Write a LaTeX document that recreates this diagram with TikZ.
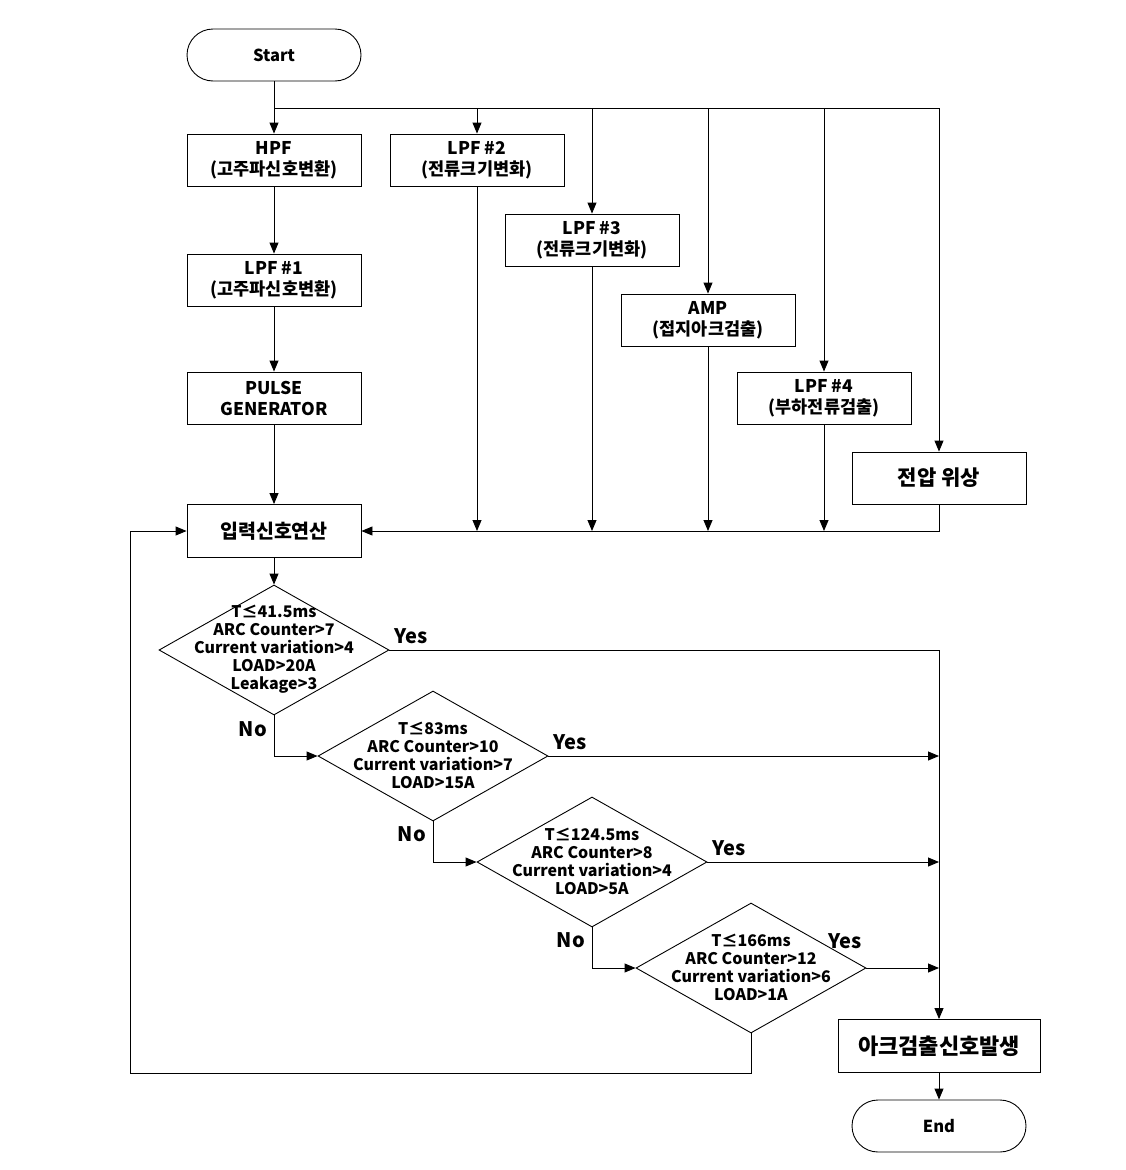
\documentclass[tikz,border=0pt]{standalone}
\usepackage{fontspec}
\setmainfont{Noto Sans CJK KR}
\usetikzlibrary{arrows.meta,shapes.geometric}
\newcommand{\lat}{\fontsize{17.5}{21}\selectfont}
\newcommand{\kor}{\fontsize{17.5}{21}\selectfont}
\begin{document}
\begin{tikzpicture}[x=1pt,y=-1pt,
  line width=0.9pt,
  box/.style={draw,rectangle,minimum width=174pt,minimum height=52pt,inner sep=0pt,align=center,font=\bfseries\lat},
  term/.style={draw,rectangle,rounded corners=26pt,minimum width=174pt,minimum height=52pt,inner sep=0pt,font=\bfseries\fontsize{16.5}{20}\selectfont},
  dia/.style={draw,diamond,minimum width=230pt,minimum height=130pt,inner sep=0pt},
  dtext/.style={align=center,inner sep=0pt,font=\bfseries\fontsize{16}{18}\selectfont},
  yn/.style={inner sep=0pt,font=\bfseries\fontsize{20}{22}\selectfont},
  arr/.style={-{Triangle[length=11pt,width=9pt]}}
]
\useasboundingbox (0,0) rectangle (1126,1170);
% nodes
\node[term] (start) at (274,55) {Start};
\node[box] (hpf) at (274,160) {HPF\\{\kor(고주파신호변환)}};
\node[box] (lpf2) at (477,160) {LPF \#2\\{\kor(전류크기변화)}};
\node[box] (lpf3) at (592,240) {LPF \#3\\{\kor(전류크기변화)}};
\node[box] (amp) at (708,320) {AMP\\{\kor(접지아크검출)}};
\node[box] (lpf4) at (824,398) {LPF \#4\\{\kor(부하전류검출)}};
\node[box,font=\bfseries\fontsize{21}{24}\selectfont] (volt) at (939,478) {전압 위상};
\node[box] (lpf1) at (274,280) {LPF \#1\\{\kor(고주파신호변환)}};
\node[box] (pulse) at (274,398) {PULSE\\GENERATOR};
\node[box,minimum height=53pt,font=\bfseries\fontsize{19.5}{22}\selectfont] (calc) at (274,531) {입력신호연산};
\node[dia] (d1) at (274,650) {};
\node[dtext] (t1) at (274,649) {T≤41.5ms\\ARC Counter>7\\Current variation>4\\LOAD>20A\\Leakage>3};
\node[dia] (d2) at (433,756) {};
\node[dtext] (t2) at (433,755) {T≤83ms\\ARC Counter>10\\Current variation>7\\LOAD>15A};
\node[dia] (d3) at (592,862) {};
\node[dtext] (t3) at (592,861) {T≤124.5ms\\ARC Counter>8\\Current variation>4\\LOAD>5A};
\node[dia] (d4) at (751,968) {};
\node[dtext] (t4) at (751,967) {T≤166ms\\ARC Counter>12\\Current variation>6\\LOAD>1A};
\node[box,minimum width=202pt,minimum height=53pt,font=\bfseries\fontsize{22}{24}\selectfont] (res) at (939,1046) {아크검출신호발생};
\node[term] (end) at (939,1126) {End};
% labels
\node[yn] (y1) at (411,636) {Yes};
\node[yn] (y2) at (570,742) {Yes};
\node[yn] (y3) at (729,848) {Yes};
\node[yn] (y4) at (845,941) {Yes};
\node[yn] (n1) at (253,729) {No};
\node[yn] (n2) at (412,834) {No};
\node[yn] (n3) at (571,940) {No};
% junctions
\coordinate (j0) at (274,108);
\coordinate (lb) at (130,1073);
\coordinate (lt) at (130,531);
% connectors
\draw[arr] (start.south) -- (hpf.north);
\draw (j0) -- (volt.north |- j0);
\draw[arr] (j0) -| (lpf2.north);
\draw[arr] (j0) -| (lpf3.north);
\draw[arr] (j0) -| (amp.north);
\draw[arr] (j0) -| (lpf4.north);
\draw[arr] (j0) -| (volt.north);
\draw[arr] (hpf.south) -- (lpf1.north);
\draw[arr] (lpf1.south) -- (pulse.north);
\draw[arr] (pulse.south) -- (calc.north);
\draw[arr] (volt.south) |- (calc.east);
\draw[arr] (lpf2.south) -- (lpf2.south |- calc.east);
\draw[arr] (lpf3.south) -- (lpf3.south |- calc.east);
\draw[arr] (amp.south) -- (amp.south |- calc.east);
\draw[arr] (lpf4.south) -- (lpf4.south |- calc.east);
\draw[arr] (calc.south) -- (d1.north);
\draw[arr] (d1.east) -| (res.north);
\draw[arr] (d2.east) -- (d2.east -| res.north);
\draw[arr] (d3.east) -- (d3.east -| res.north);
\draw[arr] (d4.east) -- (d4.east -| res.north);
\draw[arr] (d1.south) |- (d2.west);
\draw[arr] (d2.south) |- (d3.west);
\draw[arr] (d3.south) |- (d4.west);
\draw[arr] (d4.south) |- (lb) -- (lt) -- (calc.west);
\draw[arr] (res.south) -- (end.north);
\end{tikzpicture}
\end{document}
